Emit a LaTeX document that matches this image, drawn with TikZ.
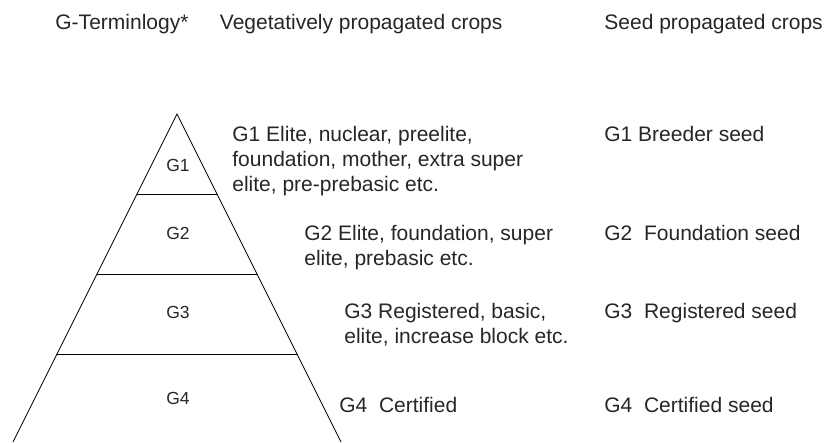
\documentclass[tikz,border=0pt]{standalone}
\usepackage{fontspec}
\setmainfont{Liberation Sans}
\begin{document}
\begin{tikzpicture}[x=1pt, y=-1pt, line width=0.8pt,
    txt/.style={anchor=north west, inner sep=0pt, align=left,
                font=\fontsize{21}{25}\selectfont, text=black!85},
    lvl/.style={anchor=base, inner sep=0pt,
                font=\fontsize{17.5}{20}\selectfont, text=black!85}]
            \useasboundingbox (0, 0) rectangle (828, 443);

            % headings
            \node[txt] (hterm) at (55, 14) {G-Terminlogy*};
            \node[txt] (hveg) at (219.5, 14) {Vegetatively propagated crops};
            \node[txt] (hseed) at (604, 14) {Seed propagated crops};

            % pyramid
            \coordinate (top) at (177, 114);
            \coordinate (bl) at (13, 442);
            \coordinate (br) at (341, 442);
            \draw (bl) -- (top) -- (br);
            \draw (137, 194) -- (217, 194);
            \draw (97, 274) -- (257, 274);
            \draw (56, 354) -- (298, 354);

            \node[lvl] (g1) at (178, 172) {G1};
            \node[lvl] (g2) at (178, 240) {G2};
            \node[lvl] (g3) at (178, 319) {G3};
            \node[lvl] (g4) at (178, 405) {G4};

            % vegetatively propagated
            \node[txt] (v1) at (232, 126) {G1 Elite, nuclear, preelite,\\foundation, mother, extra super\\elite, pre-prebasic etc.};
            \node[txt] (v2) at (304, 225) {G2 Elite, foundation, super\\elite, prebasic etc.};
            \node[txt] (v3) at (344, 303) {G3 Registered, basic,\\elite, increase block etc.};
            \node[txt] (v4) at (339, 397) {G4\ \ Certified};

            % seed propagated
            \node[txt] (s1) at (604, 126) {G1 Breeder seed};
            \node[txt] (s2) at (604, 225) {G2\ \ Foundation seed};
            \node[txt] (s3) at (604, 303) {G3\ \ Registered seed};
            \node[txt] (s4) at (604, 397) {G4\ \ Certified seed};
        \end{tikzpicture}
\end{document}
